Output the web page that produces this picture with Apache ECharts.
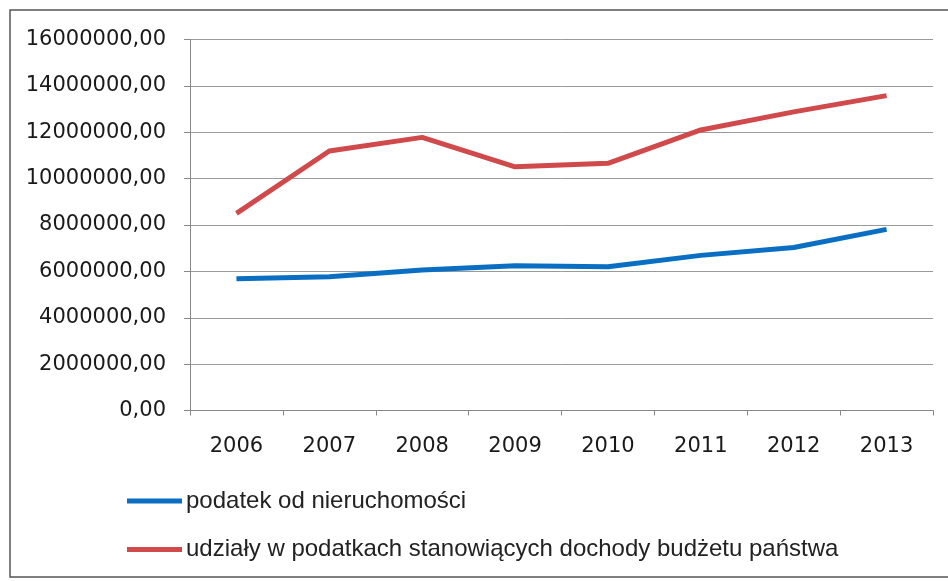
<!DOCTYPE html>
<html>
<head>
<meta charset="utf-8">
<script src="https://cdn.jsdelivr.net/npm/echarts@6/dist/echarts.min.js"></script>
<style>html,body{margin:0;padding:0;background:#fff}#c{width:948px;height:581px}</style>
</head>
<body>
<div id="c"></div>
<script>
const years = ['2006','2007','2008','2009','2010','2011','2012','2013'];
const seriesNames = ['podatek od nieruchomości', 'udziały w podatkach stanowiących dochody budżetu państwa'];
const podatek = [5680000, 5770000, 6060000, 6240000, 6200000, 6690000, 7030000, 7810000];
const udzialy = [8500000, 11190000, 11780000, 10510000, 10660000, 12100000, 12880000, 13580000];
const yMin = 0, yMax = 16000000, yStep = 2000000;

const chart = echarts.init(document.getElementById('c'), null, {renderer: 'canvas'});
const labelFont = 'DejaVu Sans';
chart.setOption({
  animation: false,
  backgroundColor: '#fff',
  graphic: [{
    type: 'rect', z: -1,
    shape: {x: 10, y: 10, width: 960, height: 567},
    style: {fill: 'none', stroke: '#555', lineWidth: 1.5}
  }],
  grid: {left: 190, right: 15, top: 39.5, bottom: 170.5},
  legend: {
    orient: 'vertical', left: 127, top: 487, padding: 0,
    itemWidth: 55, itemHeight: 5, itemGap: 20.5,
    icon: 'rect',
    textStyle: {fontFamily: 'Liberation Sans', fontSize: 24, color: '#222', lineHeight: 28, padding: [0,0,0,-1]},
    data: seriesNames
  },
  xAxis: {
    type: 'category', data: years, boundaryGap: true,
    axisLine: {lineStyle: {color: '#888', width: 1}},
    axisTick: {show: true, length: 5, lineStyle: {color: '#888'}},
    axisLabel: {fontFamily: labelFont, fontSize: 21, color: '#1a1a1a', margin: 26}
  },
  yAxis: {
    type: 'value', min: yMin, max: yMax, interval: yStep,
    axisLine: {show: true, lineStyle: {color: '#888', width: 1}},
    axisTick: {show: true, length: 6, lineStyle: {color: '#888'}},
    splitLine: {lineStyle: {color: '#9a9a9a', width: 1}},
    axisLabel: {fontFamily: labelFont, fontSize: 21, color: '#1a1a1a', margin: 24,
      formatter: v => v + ',00'}
  },
  series: [
    {name: seriesNames[0], type: 'line', data: podatek, symbol: 'none',
     lineStyle: {color: '#0a6fc2', width: 5}, itemStyle: {color: '#0a6fc2'}},
    {name: seriesNames[1], type: 'line', data: udzialy, symbol: 'none',
     lineStyle: {color: '#d0494b', width: 5}, itemStyle: {color: '#d0494b'}}
  ]
});
</script>
</body>
</html>
